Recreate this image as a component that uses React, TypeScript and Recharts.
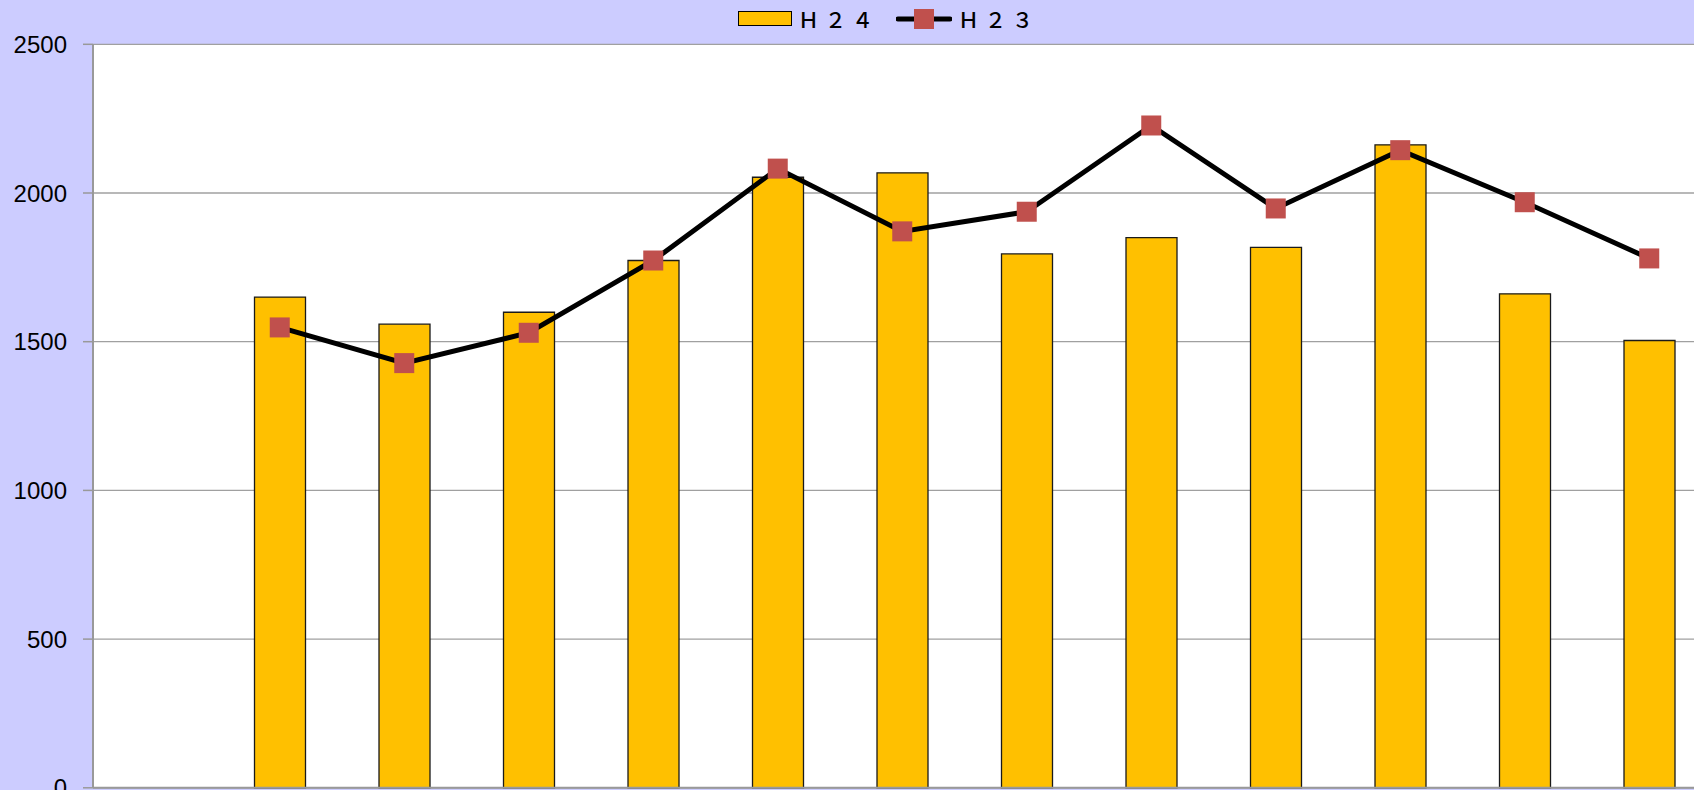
import React from "react";
import {
  ComposedChart,
  Bar,
  Line,
  XAxis,
  YAxis,
  CartesianGrid,
  Legend,
} from "recharts";

const categories = ["", "4月", "5月", "6月", "7月", "8月", "9月", "10月", "11月", "12月", "1月", "2月", "3月"];
const h24Values: (number | null)[] = [null, 1650, 1559, 1599, 1773, 2053, 2068, 1795, 1850, 1817, 2162, 1661, 1504];
const h23Values: (number | null)[] = [null, 1548, 1428, 1530, 1773, 2082, 1871, 1937, 2227, 1948, 2144, 1969, 1780];
const yTicks = [0, 500, 1000, 1500, 2000, 2500];
const seriesNames = { h24: "Ｈ２４", h23: "Ｈ２３" };

const data = categories.map((c, i) => ({ cat: c, h24: h24Values[i], h23: h23Values[i] }));

const BAR_COLOR = "#FFC000";
const MARKER_COLOR = "#C0504D";
const BG = "#CCCCFF";

const SquareDot = (props: any) => {
  const { cx, cy, value } = props;
  if (value == null || cx == null || cy == null) return null;
  const s = 20;
  return <rect x={cx - s / 2} y={cy - s / 2} width={s} height={s} fill={MARKER_COLOR} />;
};

const legendText: React.CSSProperties = {
  fontFamily: "'Noto Sans CJK JP', sans-serif",
  fontSize: 21,
  fontWeight: 500,
  color: "#000",
  letterSpacing: 6,
  lineHeight: "30px",
};

const LegendContent = () => (
  <div
    style={{
      position: "absolute",
      left: 738,
      top: 4,
      display: "flex",
      alignItems: "center",
      height: 30,
      whiteSpace: "nowrap",
    }}
  >
    <svg width={54} height={16} style={{ display: "block" }}>
      <rect x={0.5} y={0.5} width={53} height={14} fill={BAR_COLOR} stroke="#000" strokeWidth={1} />
    </svg>
    <span style={{ ...legendText, marginLeft: 6 }}>{seriesNames.h24}</span>
    <svg width={56} height={20} style={{ display: "block", marginLeft: 17 }}>
      <line x1={2} y1={10} x2={54} y2={10} stroke="#000" strokeWidth={5} strokeLinecap="round" />
      <rect x={18} y={0} width={20} height={20} fill={MARKER_COLOR} />
    </svg>
    <span style={{ ...legendText, marginLeft: 6 }}>{seriesNames.h23}</span>
  </div>
);

export default function App() {
  return (
    <div
      style={{
        position: "fixed",
        left: 0,
        top: 0,
        width: 1694,
        height: 790,
        overflow: "hidden",
        background: BG,
      }}
    >
      <ComposedChart
        width={1766}
        height={838}
        data={data}
        margin={{ top: 44.3, right: 54.5, bottom: 10.2, left: 0 }}
      >
        <CartesianGrid vertical={false} stroke="#A0A0A0" strokeWidth={1.3} fill="#FFFFFF" />
        <XAxis
          dataKey="cat"
          height={40}
          axisLine={{ stroke: "#999999", strokeWidth: 2 }}
          tickLine={false}
          tick={false}
          interval={0}
        />
        <YAxis
          width={93}
          domain={[0, 2500]}
          ticks={yTicks}
          interval={0}
          axisLine={{ stroke: "#999999", strokeWidth: 2 }}
          tickLine={{ stroke: "#999999", strokeWidth: 1.5 }}
          tickSize={10}
          tickMargin={16}
          tick={{ fontSize: 24, fill: "#000", fontFamily: "'Liberation Sans', sans-serif" }}
        />
        <Legend
          verticalAlign="top"
          content={<LegendContent />}
          wrapperStyle={{ top: 0, left: 0, width: 1694, height: 0, margin: 0 }}
        />
        <Bar
          dataKey="h24"
          name={seriesNames.h24}
          fill={BAR_COLOR}
          stroke="#1a1a1a"
          strokeWidth={1.3}
          barSize={51}
          isAnimationActive={false}
        />
        <Line
          dataKey="h23"
          name={seriesNames.h23}
          stroke="#000"
          strokeWidth={5}
          dot={<SquareDot />}
          activeDot={false}
          isAnimationActive={false}
        />
      </ComposedChart>
    </div>
  );
}
